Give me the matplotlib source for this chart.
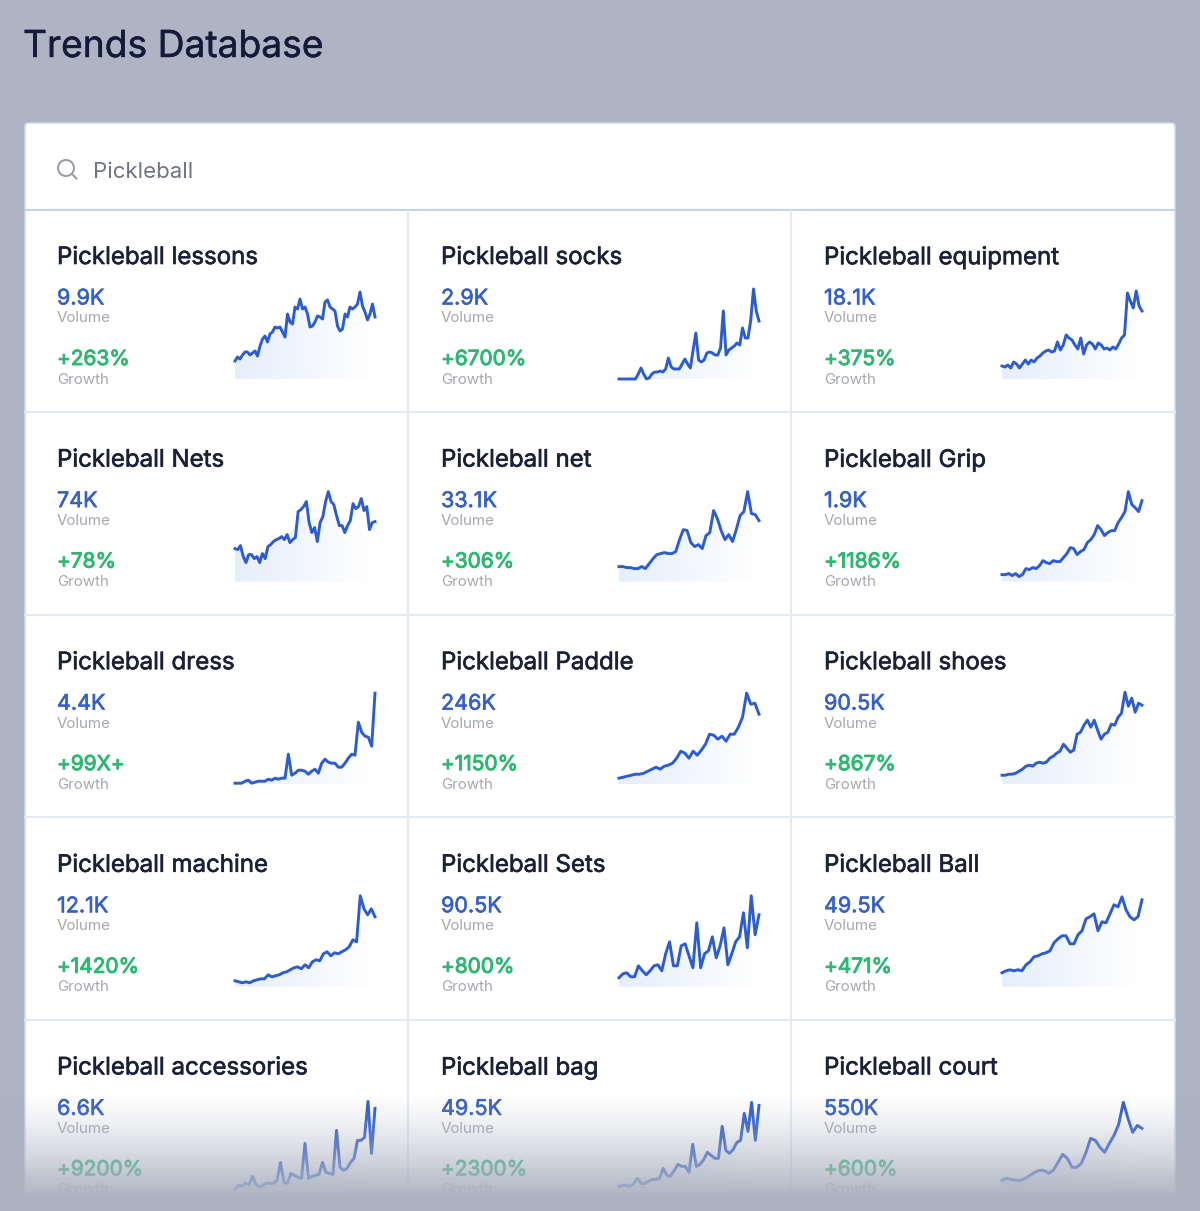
import numpy as np
import matplotlib
matplotlib.use('Agg')
import matplotlib.pyplot as plt
import matplotlib.patheffects as pe
from matplotlib.patches import Circle, FancyBboxPatch, Polygon

plt.rcParams['font.family'] = ['Inter', 'DejaVu Sans']

# cards, left to right then top to bottom
names = ['Pickleball lessons', 'Pickleball socks', 'Pickleball equipment',
         'Pickleball Nets', 'Pickleball net', 'Pickleball Grip',
         'Pickleball dress', 'Pickleball Paddle', 'Pickleball shoes',
         'Pickleball machine', 'Pickleball Sets', 'Pickleball Ball',
         'Pickleball accessories', 'Pickleball bag', 'Pickleball court']
volumes = ['9.9K', '2.9K', '18.1K', '74K', '33.1K', '1.9K', '4.4K', '246K', '90.5K',
           '12.1K', '90.5K', '49.5K', '6.6K', '49.5K', '550K']
growths = ['+263%', '+6700%', '+375%', '+78%', '+306%', '+1186%', '+99X+', '+1150%', '+867%',
           '+1420%', '+800%', '+471%', '+9200%', '+2300%', '+600%']

# sparkline values
lessons = [18,22,20,24,27,27,24,26,28,23,33,40,43,37,45,47,52,51,52,47,42,65,57,55,72,70,80,70,72,65,52,53,57,63,62,60,77,79,72,70,68,53,48,50,65,62,72,70,72,75,87,73,67,59,65,75,62]
socks = [0,0,0,0,0,0,0,5,11,5,0,1,5,7,7,8,7,10,21,12,10,10,10,15,20,15,11,29,46,19,17,19,26,27,26,24,24,31,68,24,29,31,33,36,34,51,41,41,59,90,68,58]
equipment = [13,12,14,11,17,15,11,15,19,15,19,17,21,23,26,28,29,27,28,37,29,34,44,41,39,34,30,41,25,34,37,35,30,36,34,30,31,29,32,30,35,41,44,86,78,71,88,73,68]
nets = [33,32,36,25,19,27,27,23,25,19,28,23,35,37,40,42,43,45,42,47,39,42,44,70,72,75,80,59,49,54,40,59,65,80,90,80,77,66,56,56,49,56,61,78,73,75,83,71,75,52,59,60]
net = [15,15,14,14,13,13,15,13,18,23,27,28,29,28,28,30,42,52,51,39,35,37,33,46,49,71,63,51,42,47,40,52,66,70,90,68,67,61]
grip = [7,7,8,6,8,5,7,13,12,14,13,16,21,19,18,21,20,20,24,28,34,33,27,30,32,39,42,47,56,52,46,49,51,51,59,64,70,90,77,74,70,81]
dress = [1,1,1,3,4,1,2,3,3,3,5,4,6,5,6,6,30,9,11,14,14,13,10,13,15,11,21,25,22,21,21,17,17,21,26,30,29,62,52,48,47,38,91]
paddle = [6,7,8,9,10,10,11,13,15,17,15,18,19,21,26,33,31,26,33,29,34,40,50,49,45,48,43,50,50,57,67,91,80,81,70]
shoes = [9,9,10,10,11,13,15,18,19,18,21,22,21,22,26,28,31,33,40,36,32,34,50,52,59,64,57,64,54,45,50,52,60,59,67,71,92,78,86,72,81,79]
machine = [6,5,4,5,4,6,7,8,8,12,10,11,12,14,15,17,19,20,18,22,19,25,27,26,33,35,31,34,33,35,37,40,47,45,91,78,72,78,70]
sets = [9,13,14,10,10,21,16,12,16,21,22,16,33,45,21,21,41,43,31,19,64,19,33,36,50,29,41,59,22,33,45,50,74,39,91,52,72]
ball = [14,16,17,16,17,16,22,25,30,31,33,34,36,44,48,51,51,43,43,52,56,68,70,73,56,65,64,73,82,80,90,77,70,67,70,87]
accessories = [0,4,3,6,5,13,5,2,4,6,6,6,9,27,7,6,16,14,12,11,46,11,13,14,15,27,17,16,15,59,22,19,21,27,31,49,49,52,88,36,81]
bag = [3,4,4,3,6,11,6,6,8,10,10,11,21,14,13,19,25,23,23,17,45,23,25,30,37,34,31,31,63,39,36,40,47,49,76,58,87,49,84]
court = [9,11,10,9,9,11,14,17,19,19,16,19,27,35,31,22,22,26,37,51,49,42,37,46,54,65,87,71,57,64,61]
series = [lessons, socks, equipment, nets, net, grip, dress, paddle, shoes,
          machine, sets, ball, accessories, bag, court]

bg = '#aeb4c4'
blue = '#2c5cd0'
W, H = 1200, 1211

fig = plt.figure(figsize=(W / 100, H / 100), dpi=100, facecolor=bg)
ax = fig.add_axes([0, 0, 1, 1], zorder=0)
ax.set_xlim(0, W)
ax.set_ylim(H, 0)
ax.axis('off')


def heavy(color, width=0.45):
    # Inter only comes in one weight here, thicken it with a thin stroke
    return [pe.withStroke(linewidth=width, foreground=color)]


ax.text(23, 47, 'Trends Database', fontsize=26.8, color='#15193a', va='center',
        path_effects=heavy('#15193a', 0.3))

# card
ax.add_patch(FancyBboxPatch((25, 123), 1150, 1200, boxstyle='round,pad=0,rounding_size=4',
                            fc='white', ec='#cddaf1', lw=1.2))
ax.plot([25, 1175], [210, 210], color='#b7cbeb', lw=1.2)
for x in [408, 791]:
    ax.plot([x, x], [211, 1211], color='#e4eaf5', lw=1.5)
for y in [412, 615, 817, 1020]:
    ax.plot([25, 1175], [y, y], color='#e4eaf5', lw=1.5)

# search box
ax.add_patch(Circle((66, 168), 8, fc='none', ec='#9a9ea8', lw=1.5))
ax.plot([72, 76.5], [174, 178.5], color='#9a9ea8', lw=1.5)
ax.text(93, 171.5, 'Pickleball', fontsize=16, color='#6e7484', va='center')

col_text = [57, 441, 824]
col_chart = [235, 619, 1002]
pitch = 202.6

for i in range(15):
    row, col = divmod(i, 3)
    dy = row * pitch
    tx = col_text[col]
    ax.text(tx, 258 + dy, names[i], fontsize=17.3, color='#1b2136', va='center',
            path_effects=heavy('#1b2136'))
    ax.text(tx, 298.5 + dy, volumes[i], fontsize=15.5, color='#3660c8', va='center',
            path_effects=heavy('#3660c8'))
    ax.text(tx, 318.5 + dy, 'Volume', fontsize=10.9, color='#a5a8b1', va='center')
    ax.text(tx, 359 + dy, growths[i], fontsize=15, color='#2eb872', va='center',
            path_effects=heavy('#2eb872', 0.7))
    ax.text(tx, 379.5 + dy, 'Growth', fontsize=10.9, color='#a5a8b1', va='center')

    # sparkline, 1 unit of height is 1 pixel
    base = 379 + dy
    x0 = col_chart[col]
    sp = fig.add_axes([x0 / W, 1 - (base + 3) / H, 140 / W, 103 / H], zorder=1)
    sp.patch.set_alpha(0)
    sp.axis('off')
    vals = np.array(series[i], dtype=float)
    xs = np.arange(len(vals))

    # soft area under the curve, fading to the right
    pad = np.pad(vals, 4, mode='edge')
    soft = np.convolve(pad, np.ones(9) / 9, mode='valid')
    soft = np.minimum(soft + 6, np.maximum(soft, vals))
    poly = Polygon(np.column_stack([np.r_[0, xs, xs[-1]], np.r_[0, soft, 0]]),
                   transform=sp.transData, fc='none', ec='none')
    sp.add_patch(poly)
    grad = np.zeros((2, 64, 4))
    grad[..., :3] = matplotlib.colors.to_rgb('#dce8fa')
    grad[..., 3] = np.linspace(0.72, 0, 64)
    im = sp.imshow(grad, extent=[0, len(vals) - 1, 0, 100], aspect='auto', zorder=1)
    im.set_clip_path(poly)
    sp.set_xlim(0, len(vals) - 1)
    sp.set_ylim(-3, 100)
    sp.plot(xs, vals, color=blue, lw=2.1, solid_joinstyle='round', clip_on=False, zorder=2)

# bottom of the page fades out over the last row
fade = fig.add_axes([0, 0, 1, 1], zorder=5)
fade.patch.set_alpha(0)
fade.axis('off')
ramp = np.zeros((H, 2, 4))
ramp[..., :3] = matplotlib.colors.to_rgb('#adb3c1')
t = np.clip((np.arange(H) - 1092) / (1196 - 1092), 0, 1)
ramp[..., 3] = (t ** 1.3)[:, None]
fade.imshow(ramp, extent=[0, W, H, 0], aspect='auto')
fade.set_xlim(0, W)
fade.set_ylim(H, 0)

fig.savefig('out.png', dpi=100, facecolor=bg)
